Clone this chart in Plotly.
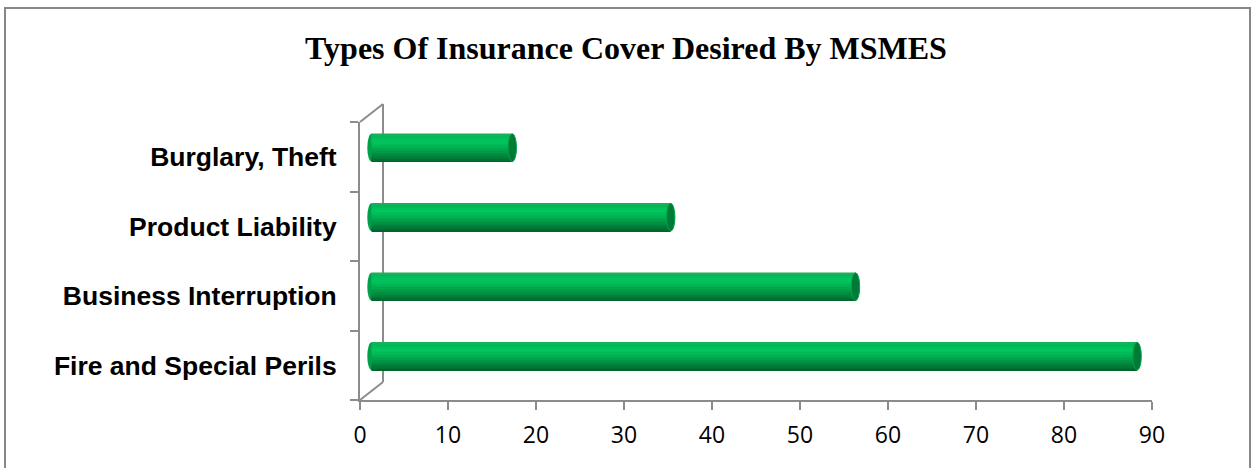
import plotly.graph_objects as go

# Survey results: share of MSMEs wanting each kind of insurance cover
categories = ["Fire and Special Perils", "Business Interruption", "Product Liability", "Burglary, Theft"]
values = [87, 55, 34, 16]
x_ticks = [0, 10, 20, 30, 40, 50, 60, 70, 80, 90]
title_text = "Types Of Insurance Cover Desired By MSMES"

W, H = 1252, 468
# front plane of the pseudo-3D plot area, in pixels
FX0, FX1 = 360, 1152
FY_TOP, FY_BOT = 122, 400
# depth offset of the back wall (bars sit half-way back)
DX, DY = 23, 18
PPU = (FX1 - FX0) / 90  # pixels per value unit
PAD = 1.0               # extra room left of zero for the rounded bar ends
GRAY = "#8c8c8c"


def px(x):
    return x / W


def py(y):
    return (H - y) / H


def mix(c1, c2, t):
    a = [int(c1[i:i + 2], 16) for i in (1, 3, 5)]
    b = [int(c2[i:i + 2], 16) for i in (1, 3, 5)]
    return "#%02x%02x%02x" % tuple(round(a[k] + (b[k] - a[k]) * t) for k in range(3))


# vertical shading profile of the cylinders (bottom -> top)
stops = [(0.0, "#005f2a"), (0.25, "#008a3e"), (0.55, "#00b352"),
         (0.75, "#00c65d"), (0.92, "#00b856"), (1.0, "#2aa862")]


def shade(t):
    for (t0, c0), (t1, c1) in zip(stops, stops[1:]):
        if t <= t1:
            return mix(c0, c1, (t - t0) / (t1 - t0))
    return stops[-1][1]


BAR_W = 0.40
N_STRIPES = 18
fig = go.Figure()

# invisible trace so the front-plane axes are drawn
fig.add_trace(go.Scatter(x=values, y=categories, mode="markers",
                         marker=dict(opacity=0), hoverinfo="skip", showlegend=False))

for k in range(N_STRIPES):
    t = (k + 0.5) / N_STRIPES
    sw = BAR_W / N_STRIPES
    fig.add_trace(go.Bar(
        x=values, y=categories, orientation="h",
        xaxis="x2", yaxis="y2",
        width=sw * 1.15, offset=-BAR_W / 2 + k * sw,
        marker=dict(color=shade(t), line=dict(width=0)),
        hoverinfo="skip", showlegend=False,
    ))

shapes = []
cap_hw = 4.2 / PPU
for i, v in enumerate(values):
    # rounded left end
    shapes.append(dict(type="circle", xref="x2", yref="y2", layer="below",
                       x0=-cap_hw, x1=cap_hw, y0=i - BAR_W / 2, y1=i + BAR_W / 2,
                       fillcolor="#00a04a", line=dict(width=0)))
    # visible end face of the cylinder
    shapes.append(dict(type="circle", xref="x2", yref="y2", layer="above",
                       x0=v - cap_hw, x1=v + cap_hw, y0=i - BAR_W / 2, y1=i + BAR_W / 2,
                       fillcolor="#007a37", line=dict(color="#00a24c", width=1)))

# back wall and its joins to the front plane
line = dict(color=GRAY, width=2)
shapes += [
    dict(type="line", xref="paper", yref="paper", layer="below",
         x0=px(FX0 + DX), x1=px(FX0 + DX), y0=py(FY_TOP - DY), y1=py(FY_BOT - DY), line=line),
    dict(type="line", xref="paper", yref="paper", layer="below",
         x0=px(FX0), x1=px(FX0 + DX), y0=py(FY_TOP), y1=py(FY_TOP - DY), line=line),
    dict(type="line", xref="paper", yref="paper", layer="below",
         x0=px(FX0), x1=px(FX0 + DX), y0=py(FY_BOT), y1=py(FY_BOT - DY), line=line),
    # chart border
    dict(type="rect", xref="paper", yref="paper", layer="below",
         x0=px(5), x1=px(1250), y0=-0.02, y1=py(8),
         line=dict(color="#878787", width=2), fillcolor="rgba(0,0,0,0)"),
]

fig.update_layout(
    width=W, height=H, autosize=False,
    margin=dict(l=0, r=0, t=0, b=0, pad=0, autoexpand=False),
    showlegend=False,
    paper_bgcolor="white", plot_bgcolor="rgba(0,0,0,0)",
    barmode="overlay",
    title=dict(text="<b>" + title_text + "</b>", x=0.5, xanchor="center",
               y=py(48), yanchor="middle", yref="paper", automargin=False,
               font=dict(family="Liberation Serif, Times New Roman, serif", size=32, color="black")),
    xaxis=dict(domain=[px(FX0), px(FX1)], range=[0, 90], anchor="y", automargin=False,
               tickvals=x_ticks, ticks="outside", ticklen=8, tickwidth=2, tickcolor=GRAY,
               showline=True, linecolor=GRAY, linewidth=2, showgrid=False, zeroline=False,
               fixedrange=True, ticklabelstandoff=5,
               tickfont=dict(family="Open Sans, sans-serif", size=23, color="black")),
    yaxis=dict(domain=[py(FY_BOT), py(FY_TOP)], anchor="x", automargin=False,
               type="category", categoryorder="array", categoryarray=categories,
               range=[-0.5, len(categories) - 0.5],
               tickvals=categories, ticks="outside", tickson="boundaries",
               ticklen=8, tickwidth=2, tickcolor=GRAY, ticklabelstandoff=16,
               showline=True, linecolor=GRAY, linewidth=2, showgrid=False, zeroline=False,
               fixedrange=True,
               tickfont=dict(family="Liberation Sans, Arial, sans-serif", size=26.5,
                             color="black", weight="bold")),
    xaxis2=dict(domain=[px(FX0 + DX / 2 - PAD * PPU), px(FX1 + DX / 2)], range=[-PAD, 90],
                anchor="y2", visible=False, fixedrange=True, automargin=False),
    yaxis2=dict(domain=[py(FY_BOT - DY / 2), py(FY_TOP - DY / 2)], anchor="x2",
                type="category", categoryorder="array", categoryarray=categories,
                range=[-0.5, len(categories) - 0.5], visible=False, fixedrange=True,
                automargin=False),
    shapes=shapes,
)

fig.write_html("out.html", config={"displayModeBar": False})
